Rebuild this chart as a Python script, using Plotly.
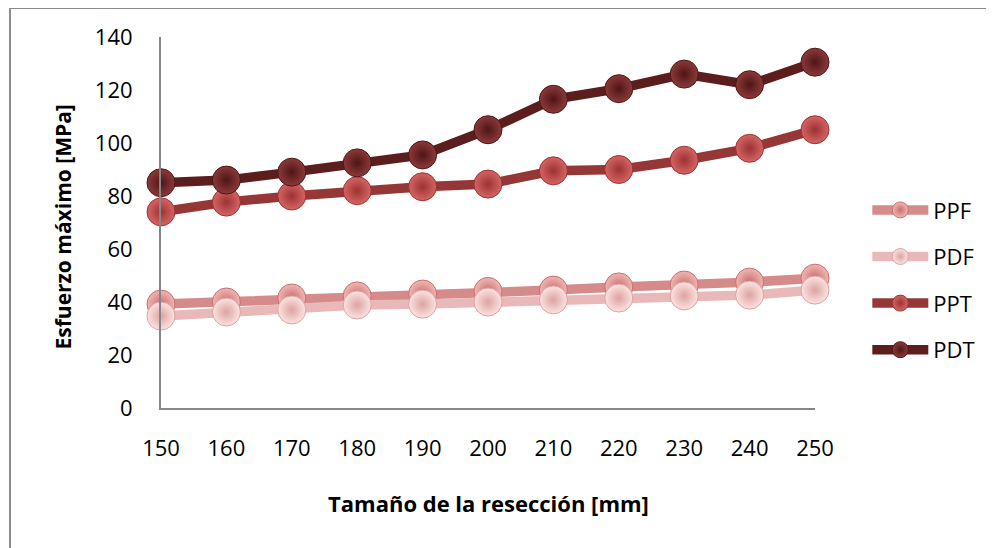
import plotly.graph_objects as go

# Tamaño de la resección [mm]
size_mm = [150, 160, 170, 180, 190, 200, 210, 220, 230, 240, 250]

# Esfuerzo máximo [MPa] per case
ppf = [39.2, 40.0, 41.5, 42.3, 43.0, 44.0, 44.5, 45.7, 46.4, 47.5, 49.0]
pdf = [34.7, 36.2, 37.0, 38.9, 39.2, 40.0, 40.8, 41.5, 42.3, 42.6, 44.5]
ppt = [74.0, 77.7, 80.0, 82.0, 83.5, 84.5, 89.5, 90.0, 93.5, 98.0, 105.0]
pdt = [85.0, 86.0, 89.0, 92.5, 95.5, 105.0, 116.5, 120.5, 126.0, 122.0, 130.5]

series = [
    ("PPF", ppf, "#d68b8b", "#f2b7b3", "#c66f6f"),
    ("PDF", pdf, "#e9b8b8", "#fbe3e1", "#dca3a1"),
    ("PPT", ppt, "#943736", "#d56564", "#9c3232"),
    ("PDT", pdt, "#5c1d1d", "#8c3a3a", "#4f1515"),
]

FONT = "Open Sans, Liberation Sans, sans-serif"

fig = go.Figure()
for name, vals, line_c, hi_c, edge_c in series:
    fig.add_trace(go.Scatter(
        x=size_mm, y=vals, name=name, legendgroup=name,
        mode="lines+markers",
        line=dict(color=line_c, width=9.5),
        marker=dict(size=28, color=hi_c,
                    gradient=dict(type="radial", color=edge_c),
                    line=dict(width=1, color=edge_c)),
        cliponaxis=False,
    ))

# outer chart frame (only left/top edges fall inside the picture)
fig.add_shape(type="rect", xref="paper", yref="paper",
              x0=-0.2309, x1=1.5, y0=-0.6, y1=1.078,
              line=dict(color="#8c8c8c", width=2), layer="below")

fig.add_annotation(text="<b>Esfuerzo máximo [MPa]</b>", textangle=-90,
                   xref="paper", yref="paper", x=0, y=0.5,
                   xanchor="center", yanchor="middle", xshift=-99, yshift=-5,
                   showarrow=False, font=dict(size=21, color="#000", family=FONT))
fig.add_annotation(text="<b>Tamaño de la resección [mm]</b>",
                   xref="paper", yref="paper", x=0.5, y=0,
                   xanchor="center", yanchor="middle", yshift=-95,
                   showarrow=False, font=dict(size=22, color="#000", family=FONT))

fig.update_layout(
    width=994, height=548,
    margin=dict(l=153, r=187, t=29, b=148),
    paper_bgcolor="white", plot_bgcolor="white",
    font=dict(family=FONT, size=22, color="#000"),
    xaxis=dict(range=[150, 250], tick0=150, dtick=10, showgrid=False,
               zeroline=False, showline=True, linecolor="#868686", linewidth=2,
               ticks="", ticklabelstandoff=20),
    yaxis=dict(range=[0, 140], dtick=20, showgrid=False, zeroline=False,
               showline=True, linecolor="#868686", linewidth=2,
               ticks="", ticklabelstandoff=22),
    legend=dict(x=1.08, y=0.59, xanchor="left", yanchor="top",
                tracegroupgap=15, itemwidth=56,
                font=dict(size=22, family=FONT), bgcolor="rgba(0,0,0,0)"),
    showlegend=True,
)

fig.write_html("out.html")
